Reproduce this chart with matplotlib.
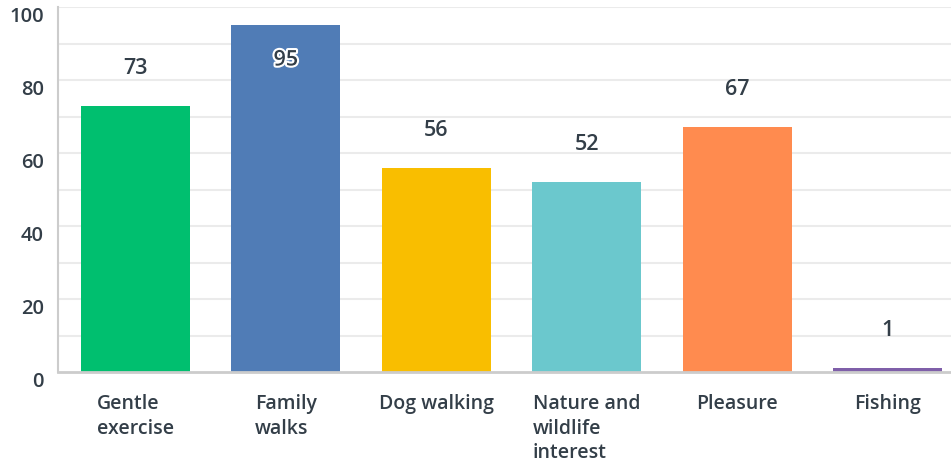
import matplotlib
matplotlib.use("Agg")
import matplotlib.pyplot as plt
import matplotlib.patheffects as pe
import matplotlib.transforms as mtransforms

categories = ["Gentle\nexercise", "Family\nwalks", "Dog walking", "Nature and\nwildlife\ninterest", "Pleasure", "Fishing"]
values = [73, 95, 56, 52, 67, 1]
colors = ["#00bf6f", "#507cb6", "#f9be00", "#6bc8cd", "#ff8b4f", "#7f5fa9"]
yticks = [0, 20, 40, 60, 80, 100]

TXT = "#333e48"
plt.rcParams['font.family'] = ['Open Sans', 'DejaVu Sans']
W8 = "semibold"

fig = plt.figure(figsize=(9.51, 4.68), dpi=100)
W, H = 951, 468
ax = fig.add_axes([58 / W, (H - 372) / H, (951 - 58) / W, (372 - 7) / H])

x = list(range(len(values)))
ax.bar(x, values, width=0.725, color=colors, zorder=3)
ax.set_xlim(-0.515, 5.422)
ax.set_ylim(0, 100)

for yv in range(10, 101, 10):
    ax.axhline(yv, color="#ebebeb", lw=1.5, zorder=1)

for i, v in enumerate(values):
    if v > 90:
        ax.annotate(str(v), (i, v), xytext=(0, -25), textcoords="offset points",
                    ha="center", va="center", fontsize=15.5, fontweight=W8, color=TXT,
                    path_effects=[pe.withStroke(linewidth=3, foreground="white")], zorder=5)
    else:
        ax.annotate(str(v), (i, v), xytext=(0, 27), textcoords="offset points",
                    ha="center", va="center", fontsize=15.5, fontweight=W8, color=TXT, zorder=5)

ax.set_xticks(x)
ax.set_xticklabels(categories, fontsize=14, fontweight=W8, color=TXT,
                   multialignment="left", linespacing=1.3, va="top")
ax.set_yticks(yticks)
ax.set_yticklabels([str(t) for t in yticks], fontsize=14.5, fontweight=W8, color=TXT)
shift = mtransforms.ScaledTranslation(0, -3 / 100, fig.dpi_scale_trans)
for lab in ax.get_yticklabels():
    lab.set_verticalalignment("top")
    lab.set_transform(lab.get_transform() + shift)
ax.tick_params(axis="both", length=0)
ax.tick_params(axis="y", pad=10)
ax.tick_params(axis="x", pad=16)

for s in ["top", "right"]:
    ax.spines[s].set_visible(False)
ax.spines["left"].set_color("#cccccc")
ax.spines["left"].set_linewidth(1.5)
ax.spines["bottom"].set_color("#cccccc")
ax.spines["bottom"].set_linewidth(2)
ax.spines["bottom"].set_zorder(4)

fig.savefig("out.png", dpi=100)
